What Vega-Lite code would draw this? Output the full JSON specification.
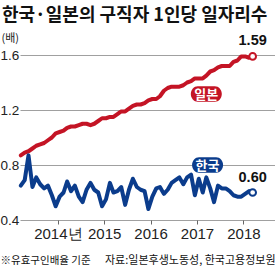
{
  "$schema": "https://vega.github.io/schema/vega-lite/v6.json",
  "width": 255,
  "height": 165,
  "autosize": {"type": "none"},
  "padding": {"left": 20, "top": 55, "right": 0, "bottom": 52},
  "background": "white",
  "config": {"view": {"stroke": null}, "font": "Noto Sans CJK KR"},
  "title": {
    "text": "한국·일본의 구직자 1인당 일자리수",
    "anchor": "start",
    "frame": "group",
    "dx": -18,
    "offset": 7,
    "fontSize": 18,
    "font": "Noto Sans CJK KR",
    "fontWeight": "bold",
    "color": "#111111"
  },
  "datasets": {
    "main": [
      {"date": "2013-03-15", "country": "일본", "value": 0.87},
      {"date": "2013-04-15", "country": "일본", "value": 0.89},
      {"date": "2013-05-15", "country": "일본", "value": 0.90},
      {"date": "2013-06-15", "country": "일본", "value": 0.92},
      {"date": "2013-07-15", "country": "일본", "value": 0.94},
      {"date": "2013-08-15", "country": "일본", "value": 0.95},
      {"date": "2013-09-15", "country": "일본", "value": 0.96},
      {"date": "2013-10-15", "country": "일본", "value": 0.98},
      {"date": "2013-11-15", "country": "일본", "value": 1.00},
      {"date": "2013-12-15", "country": "일본", "value": 1.03},
      {"date": "2014-01-15", "country": "일본", "value": 1.04},
      {"date": "2014-02-15", "country": "일본", "value": 1.05},
      {"date": "2014-03-15", "country": "일본", "value": 1.07},
      {"date": "2014-04-15", "country": "일본", "value": 1.08},
      {"date": "2014-05-15", "country": "일본", "value": 1.08},
      {"date": "2014-06-15", "country": "일본", "value": 1.09},
      {"date": "2014-07-15", "country": "일본", "value": 1.10},
      {"date": "2014-08-15", "country": "일본", "value": 1.10},
      {"date": "2014-09-15", "country": "일본", "value": 1.09},
      {"date": "2014-10-15", "country": "일본", "value": 1.10},
      {"date": "2014-11-15", "country": "일본", "value": 1.12},
      {"date": "2014-12-15", "country": "일본", "value": 1.14},
      {"date": "2015-01-15", "country": "일본", "value": 1.14},
      {"date": "2015-02-15", "country": "일본", "value": 1.15},
      {"date": "2015-03-15", "country": "일본", "value": 1.15},
      {"date": "2015-04-15", "country": "일본", "value": 1.17},
      {"date": "2015-05-15", "country": "일본", "value": 1.19},
      {"date": "2015-06-15", "country": "일본", "value": 1.19},
      {"date": "2015-07-15", "country": "일본", "value": 1.21},
      {"date": "2015-08-15", "country": "일본", "value": 1.23},
      {"date": "2015-09-15", "country": "일본", "value": 1.24},
      {"date": "2015-10-15", "country": "일본", "value": 1.24},
      {"date": "2015-11-15", "country": "일본", "value": 1.25},
      {"date": "2015-12-15", "country": "일본", "value": 1.27},
      {"date": "2016-01-15", "country": "일본", "value": 1.28},
      {"date": "2016-02-15", "country": "일본", "value": 1.28},
      {"date": "2016-03-15", "country": "일본", "value": 1.30},
      {"date": "2016-04-15", "country": "일본", "value": 1.34},
      {"date": "2016-05-15", "country": "일본", "value": 1.36},
      {"date": "2016-06-15", "country": "일본", "value": 1.37},
      {"date": "2016-07-15", "country": "일본", "value": 1.37},
      {"date": "2016-08-15", "country": "일본", "value": 1.37},
      {"date": "2016-09-15", "country": "일본", "value": 1.38},
      {"date": "2016-10-15", "country": "일본", "value": 1.40},
      {"date": "2016-11-15", "country": "일본", "value": 1.41},
      {"date": "2016-12-15", "country": "일본", "value": 1.43},
      {"date": "2017-01-15", "country": "일본", "value": 1.43},
      {"date": "2017-02-15", "country": "일본", "value": 1.43},
      {"date": "2017-03-15", "country": "일본", "value": 1.45},
      {"date": "2017-04-15", "country": "일본", "value": 1.48},
      {"date": "2017-05-15", "country": "일본", "value": 1.49},
      {"date": "2017-06-15", "country": "일본", "value": 1.51},
      {"date": "2017-07-15", "country": "일본", "value": 1.52},
      {"date": "2017-08-15", "country": "일본", "value": 1.52},
      {"date": "2017-09-15", "country": "일본", "value": 1.52},
      {"date": "2017-10-15", "country": "일본", "value": 1.55},
      {"date": "2017-11-15", "country": "일본", "value": 1.56},
      {"date": "2017-12-15", "country": "일본", "value": 1.59},
      {"date": "2018-01-15", "country": "일본", "value": 1.59},
      {"date": "2018-02-15", "country": "일본", "value": 1.58},
      {"date": "2018-03-15", "country": "일본", "value": 1.59},
      {"date": "2013-03-15", "country": "한국", "value": 0.65},
      {"date": "2013-04-15", "country": "한국", "value": 0.69},
      {"date": "2013-05-15", "country": "한국", "value": 0.87},
      {"date": "2013-06-15", "country": "한국", "value": 0.64},
      {"date": "2013-07-15", "country": "한국", "value": 0.71},
      {"date": "2013-08-15", "country": "한국", "value": 0.66},
      {"date": "2013-09-15", "country": "한국", "value": 0.63},
      {"date": "2013-10-15", "country": "한국", "value": 0.65},
      {"date": "2013-11-15", "country": "한국", "value": 0.58},
      {"date": "2013-12-15", "country": "한국", "value": 0.50},
      {"date": "2014-01-15", "country": "한국", "value": 0.57},
      {"date": "2014-02-15", "country": "한국", "value": 0.60},
      {"date": "2014-03-15", "country": "한국", "value": 0.68},
      {"date": "2014-04-15", "country": "한국", "value": 0.61},
      {"date": "2014-05-15", "country": "한국", "value": 0.65},
      {"date": "2014-06-15", "country": "한국", "value": 0.57},
      {"date": "2014-07-15", "country": "한국", "value": 0.53},
      {"date": "2014-08-15", "country": "한국", "value": 0.62},
      {"date": "2014-09-15", "country": "한국", "value": 0.67},
      {"date": "2014-10-15", "country": "한국", "value": 0.62},
      {"date": "2014-11-15", "country": "한국", "value": 0.60},
      {"date": "2014-12-15", "country": "한국", "value": 0.50},
      {"date": "2015-01-15", "country": "한국", "value": 0.55},
      {"date": "2015-02-15", "country": "한국", "value": 0.67},
      {"date": "2015-03-15", "country": "한국", "value": 0.60},
      {"date": "2015-04-15", "country": "한국", "value": 0.61},
      {"date": "2015-05-15", "country": "한국", "value": 0.64},
      {"date": "2015-06-15", "country": "한국", "value": 0.51},
      {"date": "2015-07-15", "country": "한국", "value": 0.62},
      {"date": "2015-08-15", "country": "한국", "value": 0.70},
      {"date": "2015-09-15", "country": "한국", "value": 0.64},
      {"date": "2015-10-15", "country": "한국", "value": 0.62},
      {"date": "2015-11-15", "country": "한국", "value": 0.61},
      {"date": "2015-12-15", "country": "한국", "value": 0.48},
      {"date": "2016-01-15", "country": "한국", "value": 0.57},
      {"date": "2016-02-15", "country": "한국", "value": 0.63},
      {"date": "2016-03-15", "country": "한국", "value": 0.64},
      {"date": "2016-04-15", "country": "한국", "value": 0.59},
      {"date": "2016-05-15", "country": "한국", "value": 0.62},
      {"date": "2016-06-15", "country": "한국", "value": 0.67},
      {"date": "2016-07-15", "country": "한국", "value": 0.69},
      {"date": "2016-08-15", "country": "한국", "value": 0.71},
      {"date": "2016-09-15", "country": "한국", "value": 0.66},
      {"date": "2016-10-15", "country": "한국", "value": 0.71},
      {"date": "2016-11-15", "country": "한국", "value": 0.73},
      {"date": "2016-12-15", "country": "한국", "value": 0.58},
      {"date": "2017-01-15", "country": "한국", "value": 0.70},
      {"date": "2017-02-15", "country": "한국", "value": 0.60},
      {"date": "2017-03-15", "country": "한국", "value": 0.71},
      {"date": "2017-04-15", "country": "한국", "value": 0.63},
      {"date": "2017-05-15", "country": "한국", "value": 0.53},
      {"date": "2017-06-15", "country": "한국", "value": 0.65},
      {"date": "2017-07-15", "country": "한국", "value": 0.63},
      {"date": "2017-08-15", "country": "한국", "value": 0.63},
      {"date": "2017-09-15", "country": "한국", "value": 0.61},
      {"date": "2017-10-15", "country": "한국", "value": 0.58},
      {"date": "2017-11-15", "country": "한국", "value": 0.57},
      {"date": "2017-12-15", "country": "한국", "value": 0.57},
      {"date": "2018-01-15", "country": "한국", "value": 0.59},
      {"date": "2018-02-15", "country": "한국", "value": 0.61},
      {"date": "2018-03-15", "country": "한국", "value": 0.60}
    ],
    "badges": [
      {"date": "2017-03-15", "country": "일본", "value": 1.316, "label": "일본"},
      {"date": "2017-03-25", "country": "한국", "value": 0.80, "label": "한국"}
    ]
  },
  "layer": [
    {
      "data": {"name": "main"},
      "mark": {"type": "line", "strokeWidth": 4, "strokeJoin": "round", "strokeCap": "round"},
      "encoding": {
        "x": {
          "field": "date", "type": "temporal",
          "scale": {"type": "utc", "domain": [{"year": 2013, "month": 3, "date": 9, "utc": true}, {"year": 2018, "month": 9, "date": 7, "utc": true}]},
          "axis": {
            "values": [
              {"year": 2014, "month": 1, "date": 1, "utc": true},
              {"year": 2015, "month": 1, "date": 1, "utc": true},
              {"year": 2016, "month": 1, "date": 1, "utc": true},
              {"year": 2017, "month": 1, "date": 1, "utc": true},
              {"year": 2018, "month": 1, "date": 1, "utc": true}
            ],
            "format": "%Y",
            "labelExpr": "datum.label == '2014' ? '2014년' : datum.label",
            "grid": false, "domain": false, "ticks": true, "tickSize": 4, "tickColor": "#666666",
            "labelFontSize": 15, "labelFont": "Liberation Sans", "labelColor": "#222222",
            "labelPadding": 2, "labelFlush": false, "labelOverlap": false,
            "title": "※유효구인배율 기준", "titleX": -20, "titleY": 43, "titleAlign": "left",
            "titleBaseline": "alphabetic", "titleFontSize": 10.5, "titleFontWeight": "normal",
            "titleColor": "#111111", "titleFont": "Noto Sans CJK KR"
          }
        },
        "y": {
          "field": "value", "type": "quantitative",
          "scale": {"domain": [0.4, 1.6], "nice": false, "zero": false},
          "axis": {
            "values": [0.4, 0.8, 1.2, 1.6], "format": ".1f",
            "grid": true, "gridColor": "#a0a0a0", "gridWidth": 1,
            "domain": false, "ticks": false, "tickSize": 0,
            "labelAlign": "left", "labelPadding": 20, "labelFontSize": 13.5,
            "labelFont": "Liberation Sans", "labelColor": "#222222", "labelBaseline": "middle",
            "title": "(배)", "titleAngle": 0, "titleX": -19, "titleY": -14, "titleAlign": "left",
            "titleBaseline": "alphabetic", "titleFontSize": 11, "titleFontWeight": "normal",
            "titleColor": "#222222"
          }
        },
        "color": {"field": "country", "type": "nominal", "scale": {"domain": ["일본", "한국"], "range": ["#c41425", "#0b3c8c"]}, "legend": null}
      }
    },
    {
      "data": {"name": "main"},
      "transform": [{"filter": "utcyear(datum.date) == 2018 && utcmonth(datum.date) == 2"}],
      "mark": {"type": "point", "shape": "circle", "size": 45, "strokeWidth": 2, "filled": false, "fill": "white", "fillOpacity": 1, "opacity": 1},
      "encoding": {
        "x": {"field": "date", "type": "temporal", "scale": {"type": "utc"}, "axis": null},
        "y": {"field": "value", "type": "quantitative"},
        "color": {"field": "country", "type": "nominal", "legend": null}
      }
    },
    {
      "data": {"name": "main"},
      "transform": [{"filter": "utcyear(datum.date) == 2018 && utcmonth(datum.date) == 2"}],
      "mark": {"type": "text", "dy": -11, "fontSize": 14.5, "fontWeight": "bold", "font": "Liberation Sans", "baseline": "alphabetic", "align": "center", "color": "#111111"},
      "encoding": {
        "x": {"field": "date", "type": "temporal", "scale": {"type": "utc"}, "axis": null},
        "y": {"field": "value", "type": "quantitative"},
        "text": {"field": "value", "type": "quantitative", "format": ".2f"}
      }
    },
    {
      "data": {"name": "badges"},
      "mark": {"type": "point", "shape": "M -0.55 -0.5 L 0.55 -0.5 A 0.45 0.5 0 0 1 0.55 0.5 L -0.55 0.5 A 0.45 0.5 0 0 1 -0.55 -0.5 Z", "size": 961, "filled": true, "opacity": 1, "strokeWidth": 0},
      "encoding": {
        "x": {
          "field": "date", "type": "temporal", "scale": {"type": "utc"},
          "axis": {
            "orient": "bottom", "title": "자료:일본후생노동성, 한국고용정보원",
            "labels": false, "ticks": false, "domain": false, "grid": false,
            "titleX": 255, "titleY": 43, "titleAlign": "right", "titleBaseline": "alphabetic",
            "titleFontSize": 11, "titleFontWeight": "normal", "titleColor": "#111111",
            "titleFont": "Noto Sans CJK KR"
          }
        },
        "y": {"field": "value", "type": "quantitative"},
        "color": {"field": "country", "type": "nominal", "legend": null}
      }
    },
    {
      "data": {"name": "badges"},
      "mark": {"type": "text", "fontSize": 13, "fontWeight": "bold", "font": "Noto Sans CJK KR", "baseline": "middle", "align": "center", "color": "white", "dy": 0.5},
      "encoding": {
        "x": {"field": "date", "type": "temporal", "scale": {"type": "utc"}, "axis": null},
        "y": {"field": "value", "type": "quantitative"},
        "text": {"field": "label", "type": "nominal"}
      }
    }
  ],
  "resolve": {"axis": {"x": "independent"}}
}
